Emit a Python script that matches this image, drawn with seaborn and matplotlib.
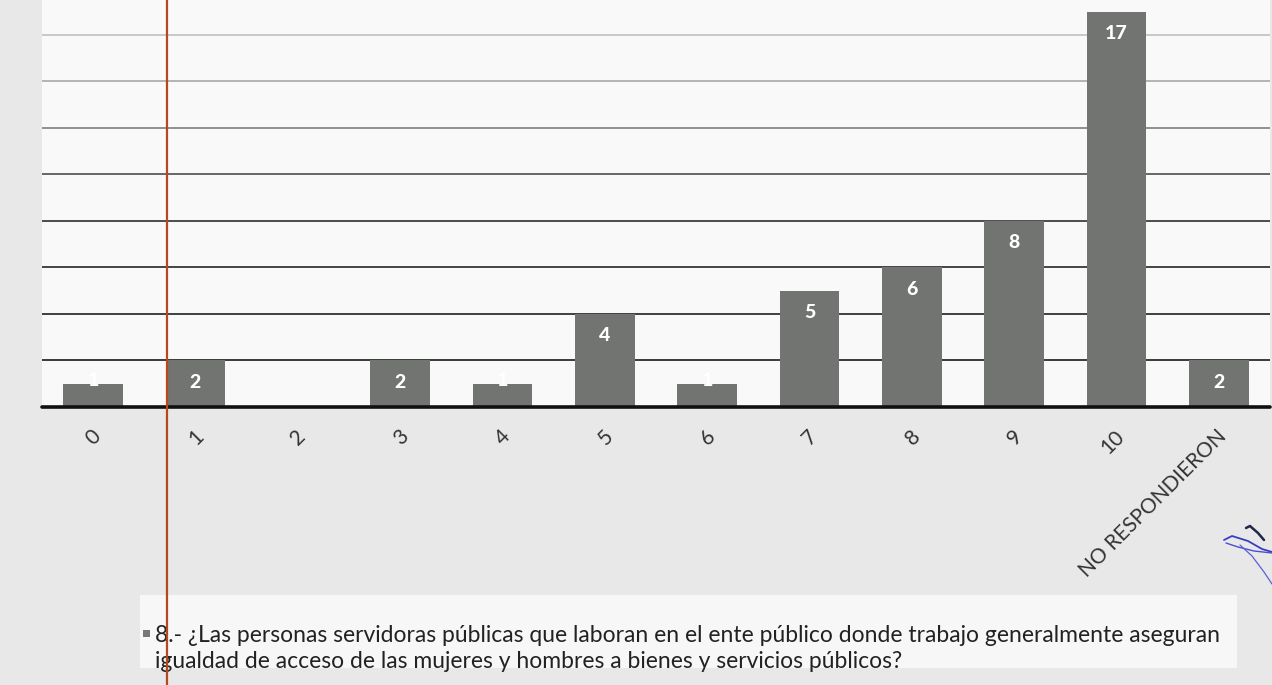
import matplotlib
matplotlib.use("Agg")
import matplotlib.pyplot as plt
import matplotlib.transforms as mtransforms
from matplotlib.patches import Rectangle
from matplotlib.lines import Line2D
import pandas as pd
import seaborn as sns

# Survey answers (0-10 scale) and the number of respondents for each one
categories = ["0", "1", "2", "3", "4", "5", "6", "7", "8", "9", "10", "NO RESPONDIERON"]
counts = [1, 2, 0, 2, 1, 4, 1, 5, 6, 8, 17, 2]
legend_lines = [
    "8.- ¿Las personas servidoras públicas que laboran en el ente público donde trabajo generalmente aseguran",
    "igualdad de acceso de las mujeres y hombres a bienes y servicios públicos?",
]
grid_levels = [2, 4, 6, 8, 10, 12, 14, 16]

sns.set_theme(style="white")
plt.rcParams["font.family"] = ["Lato", "DejaVu Sans"]

W, H = 1272, 685
fig = plt.figure(figsize=(W / 100, H / 100), dpi=100, facecolor="#e8e8e8")
ax = fig.add_axes([42 / W, 1 - 407 / H, 1228 / W, 407 / H])
ax.set_facecolor("#f9f9f9")

df = pd.DataFrame({"respuesta": categories, "personas": counts})
sns.barplot(data=df, x="respuesta", y="personas", order=categories,
            color="#717471", saturation=1, width=0.58, linewidth=0,
            ax=ax, zorder=3)

ax.set_xlim(-0.5, len(categories) - 0.5)
ax.set_ylim(0, 17.5)

# horizontal gridlines, fading towards the top
grid_colors = ["#1a1a1a", "#202020", "#262626", "#303030", "#4e4e4e", "#7e7e7e", "#a8a8a8", "#c0c0c0"]
for lvl, col in zip(grid_levels, grid_colors):
    ax.axhline(lvl, color=col, lw=1.2, zorder=1)
ax.axhline(0, color="#111111", lw=2.6, zorder=4, clip_on=False)

for s in ax.spines.values():
    s.set_visible(False)
ax.set_yticks([])
ax.set_xlabel("")
ax.set_ylabel("")
ax.set_xticks(range(len(categories)))
ax.set_xticklabels(categories, rotation=45, ha="right", fontsize=15, color="#333333")
ax.tick_params(axis="x", length=0, pad=14)
shift = mtransforms.ScaledTranslation(12 / 100, 0, fig.dpi_scale_trans)
for lbl in ax.get_xticklabels():
    lbl.set_transform(lbl.get_transform() + shift)

# value labels inside the bar ends
for i, v in enumerate(counts):
    if v == 0:
        continue
    if v >= 2:
        ax.annotate(str(v), (i, v), xytext=(0, -22), textcoords="offset pixels",
                    ha="center", va="center", color="white", fontweight="black",
                    fontsize=14, zorder=5)
    else:
        ax.annotate(str(v), (i, v), xytext=(0, -2), textcoords="offset pixels",
                    ha="center", va="baseline", color="white", fontweight="black",
                    fontsize=14, zorder=5)

# legend panel below the plot
fig.patches.append(Rectangle((140 / W, 1 - 668 / H), (1237 - 140) / W, (668 - 595) / H,
                             transform=fig.transFigure, facecolor="#f7f7f7",
                             edgecolor="none", zorder=0))
fig.patches.append(Rectangle((143 / W, 1 - 637 / H), 7 / W, 7 / H,
                             transform=fig.transFigure, facecolor="#777777",
                             edgecolor="none", zorder=1))
t1 = fig.text(155 / W, 1 - 635 / H, legend_lines[0], ha="left", va="center",
              fontsize=14, color="#222222")
t2 = fig.text(155 / W, 1 - 662 / H, legend_lines[1], ha="left", va="center",
              fontsize=14, color="#222222")
renderer = fig.canvas.get_renderer()
w = t1.get_window_extent(renderer).width
fs = 14 * (1220 - 155) / w
t1.set_fontsize(fs)
t2.set_fontsize(fs)

# margin rule of the paper sheet
fig.add_artist(Line2D([167 / W, 167 / W], [0, 1], transform=fig.transFigure,
                      color="#b5481f", lw=1.6, zorder=10))

# initials written in pen at the lower right corner
def px(xs, ys):
    return [x / W for x in xs], [1 - y / H for y in ys]

for xs, ys, col, lw in [
    ([1224, 1232, 1248, 1262, 1272], [540, 536, 541, 549, 552], "#3a3fc0", 1.3),
    ([1226, 1238, 1254, 1272], [543, 547, 551, 553], "#4a4fd0", 1.0),
    ([1246, 1250, 1258, 1264], [528, 526, 533, 540], "#22264a", 1.8),
    ([1240, 1252, 1264, 1272], [545, 556, 572, 584], "#5a60d8", 0.9),
]:
    fig.add_artist(Line2D(*px(xs, ys), transform=fig.transFigure, color=col,
                          lw=lw, solid_capstyle="round", zorder=11))

fig.savefig("out.png", dpi=100, facecolor=fig.get_facecolor())
